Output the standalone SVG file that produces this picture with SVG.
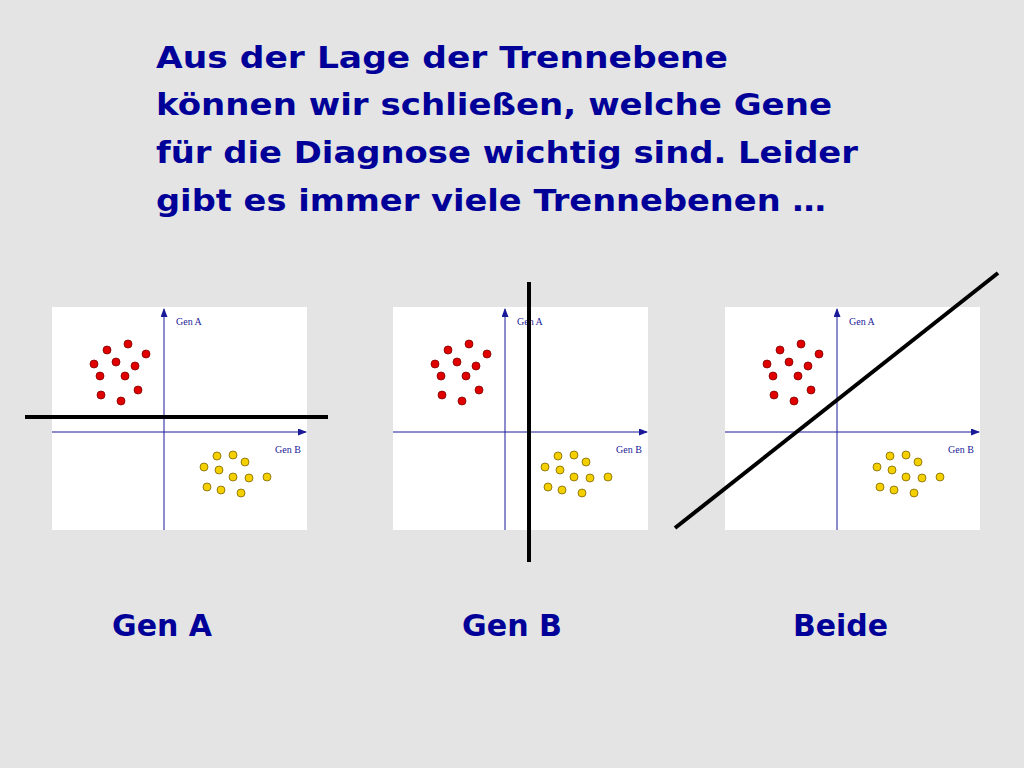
<svg xmlns="http://www.w3.org/2000/svg" xmlns:xlink="http://www.w3.org/1999/xlink" width="1024" height="768" viewBox="0 0 1024 768">
<style>
.t{font-family:"DejaVu Sans",sans-serif;font-weight:bold;font-size:31px;fill:#000099}
.ax{stroke:#1a1a99;stroke-width:1}
.al{font-family:"Liberation Serif",serif;font-size:10px;fill:#1a1a99}
.r{fill:#e00000;stroke:#800000;stroke-width:0.8}
.y{fill:#f5d000;stroke:#806600;stroke-width:0.8}
.sep{stroke:#000;stroke-width:4}
</style>
<defs>
<marker id="ar" markerWidth="9" markerHeight="7" refX="8" refY="3.5" orient="auto" markerUnits="userSpaceOnUse"><path d="M0,0 L9,3.5 L0,7 z" fill="#1a1a99"/></marker>
<g id="plot">
<rect x="52" y="307" width="255" height="223" fill="#fff"/>
<line class="ax" x1="164" y1="530" x2="164" y2="309" marker-end="url(#ar)"/>
<line class="ax" x1="52" y1="432" x2="306" y2="432" marker-end="url(#ar)"/>
<text class="al" x="176" y="325">Gen A</text>
<text class="al" x="275" y="453">Gen B</text>
<g class="r">
<circle cx="107" cy="350" r="4"/><circle cx="128" cy="344" r="4"/><circle cx="146" cy="354" r="4"/><circle cx="94" cy="364" r="4"/><circle cx="116" cy="362" r="4"/><circle cx="135" cy="366" r="4"/><circle cx="100" cy="376" r="4"/><circle cx="125" cy="376" r="4"/><circle cx="138" cy="390" r="4"/><circle cx="101" cy="395" r="4"/><circle cx="121" cy="401" r="4"/>
</g>
<g class="y">
<circle cx="204" cy="467" r="4"/><circle cx="217" cy="456" r="4"/><circle cx="233" cy="455" r="4"/><circle cx="245" cy="462" r="4"/><circle cx="219" cy="470" r="4"/><circle cx="233" cy="477" r="4"/><circle cx="249" cy="478" r="4"/><circle cx="267" cy="477" r="4"/><circle cx="207" cy="487" r="4"/><circle cx="221" cy="490" r="4"/><circle cx="241" cy="493" r="4"/>
</g>
</g>
</defs>
<rect width="1024" height="768" fill="#e4e4e4"/>
<g id="title">
<text class="t" x="156" y="68" textLength="572" lengthAdjust="spacingAndGlyphs">Aus der Lage der Trennebene</text>
<text class="t" x="156" y="115" textLength="676" lengthAdjust="spacingAndGlyphs">können wir schließen, welche Gene</text>
<text class="t" x="156" y="163" textLength="702" lengthAdjust="spacingAndGlyphs">für die Diagnose wichtig sind. Leider</text>
<text class="t" x="156" y="211" textLength="670" lengthAdjust="spacingAndGlyphs">gibt es immer viele Trennebenen …</text>
</g>
<g id="panel1"><use xlink:href="#plot"/><line class="sep" x1="25" y1="417" x2="328" y2="417"/><text class="t" x="112" y="636" textLength="100" lengthAdjust="spacingAndGlyphs">Gen A</text></g>
<g id="panel2"><use xlink:href="#plot" x="341"/><line class="sep" x1="529" y1="282" x2="529" y2="562"/><text class="t" x="462" y="636" textLength="100" lengthAdjust="spacingAndGlyphs">Gen B</text></g>
<g id="panel3"><use xlink:href="#plot" x="673"/><line class="sep" x1="675" y1="528" x2="998" y2="273"/><text class="t" x="793" y="636" textLength="95" lengthAdjust="spacingAndGlyphs">Beide</text></g>
</svg>
